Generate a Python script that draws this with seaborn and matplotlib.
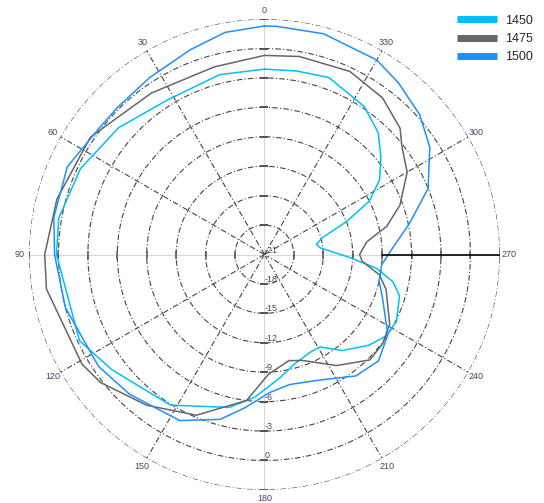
import numpy as np
import pandas as pd
import matplotlib
matplotlib.use('Agg')
import matplotlib.pyplot as plt
import seaborn as sns

# angles in degrees (0 at top, counter-clockwise), gain in dB
ang_1450 = [0, 14, 32, 49, 65, 80, 90, 115, 127, 148, 167, 176, 187, 195, 205, 211, 219, 229, 236, 243,
            253, 258, 263, 268, 277, 281, 286, 292, 297, 303, 310, 317, 326, 340, 350, 360]
db_1450 = [-2.1, -2.1, -2.4, -1.3, -0.3, 0.3, 0.2, -0.2, -1.5, -2.9, -5.0, -6.4, -8.3, -9.4, -10.0, -10.0, -8.4, -6.9, -6.1, -5.9,
           -6.6, -7.6, -9.5, -12.3, -15.3, -15.6, -14.9, -11.9, -9.0, -7.0, -5.5, -4.0, -2.8, -1.8, -2.0, -2.1]

ang_1475 = [0, 15, 35, 56, 75, 90, 99, 121, 128, 142, 157, 173, 182, 193, 200, 213, 225, 233, 241, 254,
            260, 266, 270, 277, 283, 290, 300, 308, 313, 323, 335, 350, 360]
db_1475 = [-0.7, -1.2, -0.9, 0.4, 0.9, 1.4, 1.5, 0.7, 0.2, -1.5, -3.2, -6.0, -8.8, -9.9, -9.5, -7.5, -5.8, -5.9, -6.4, -8.1,
           -9.1, -11.0, -11.3, -10.5, -8.2, -6.3, -4.2, -3.2, -2.1, -1.0, -0.4, -0.5, -0.7]

ang_1500 = [0, 10, 20, 33, 45, 52, 66, 80, 90, 105, 124, 136, 153, 165, 173, 182, 191, 204, 217, 227,
            237, 250, 257, 265, 273, 282, 292, 303, 312, 322, 330, 345, 357, 360]
db_1500 = [2.3, 2.0, 1.2, 0.5, 0.2, 0.2, 1.0, 0.8, 0.4, 0.0, -0.6, -1.2, -2.0, -3.6, -5.3, -6.9, -7.5, -7.0, -5.5, -5.1,
           -6.0, -8.2, -9.0, -9.0, -7.9, -5.9, -3.0, -0.9, 0.3, 1.2, 1.9, 2.3, 2.3, 2.3]

r_ticks = [-21, -18, -15, -12, -9, -6, -3, 0, 3]
r_labels = ['-21', '-18', '-15', '-12', '-9', '-6', '-3', '0', '']
theta_ticks = list(range(0, 360, 30))
colors = {'1450': '#00BFFF', '1475': '#666666', '1500': '#1E90FF'}

df = pd.concat([
    pd.DataFrame({'theta': np.deg2rad(ang_1450), 'db': db_1450, 'freq': '1450'}),
    pd.DataFrame({'theta': np.deg2rad(ang_1475), 'db': db_1475, 'freq': '1475'}),
    pd.DataFrame({'theta': np.deg2rad(ang_1500), 'db': db_1500, 'freq': '1500'}),
])

sns.set_style('white')
plt.rcParams['font.family'] = ['Liberation Sans', 'DejaVu Sans']

fig = plt.figure(figsize=(5.44, 5.03), dpi=100)
ax = fig.add_axes([0.0506, 0.026, 0.871, 0.936], projection='polar')
ax.set_theta_zero_location('N')
ax.set_theta_direction(1)

sns.lineplot(data=df, x='theta', y='db', hue='freq', palette=colors, estimator=None,
             sort=True, linewidth=1.1, ax=ax, legend=False)

ax.set_ylim(r_ticks[0], r_ticks[-1])
ax.set_yticks(r_ticks)
ax.set_yticklabels(r_labels, fontsize=6.5, color='#444466')
ax.set_rlabel_position(180)
ax.set_xticks(np.deg2rad(theta_ticks))
ax.set_xticklabels([str(t) for t in theta_ticks], fontsize=6.5, color='#444466')
ax.tick_params(axis='x', pad=-4)
ax.set_xlabel('')
ax.set_ylabel('')
ax.spines['polar'].set_visible(False)

ax.grid(True, color='#444444', linewidth=0.8, linestyle=(0, (5, 2, 1, 2)))
for i, gl in enumerate(ax.xaxis.get_gridlines()):
    if theta_ticks[i] % 90 == 0:
        gl.set_linestyle('-')
        gl.set_color('#d8d8d8')
        gl.set_linewidth(0.8)

# small tick marks on rings along the main axes
for t in [0, 90, 180, 270]:
    mk = '_' if t in (0, 180) else '|'
    ax.plot(np.deg2rad([t] * (len(r_ticks) - 1)), r_ticks[1:], linestyle='none', marker=mk,
            markersize=6, markeredgewidth=1.1, color='#555555', zorder=1)

# black reference line on the 270 axis
ax.plot(np.deg2rad([270, 270]), [-9, 3], color='black', linewidth=1.2, zorder=3)

handles = [plt.Line2D([], [], color=colors[k], linewidth=5, solid_capstyle='butt') for k in colors]
fig.legend(handles, list(colors), loc='upper right', bbox_to_anchor=(1.0, 0.993), frameon=False,
           fontsize=9, handlelength=3.2, labelspacing=0.5, handletextpad=0.6)

fig.savefig('out.png', dpi=100)
